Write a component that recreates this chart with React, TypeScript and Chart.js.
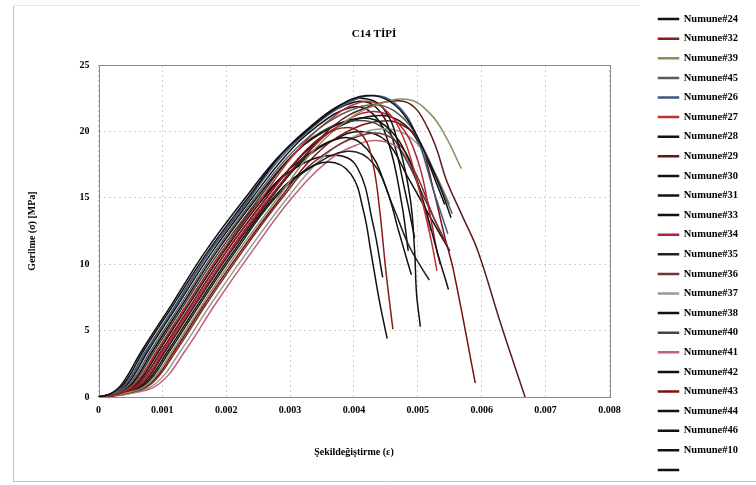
import React, { useEffect, useRef } from "react";
import { Chart, registerables } from "chart.js";

Chart.register(...registerables);

type Pt = [number, number];

const chartTitle = "C14 TİPİ";
const xAxisTitle = "Şekildeğiştirme (ε)";
const yAxisTitle = "Gerilme (σ) [MPa]";
const xMin = 0;
const xMax = 0.008;
const xStep = 0.001;
const yMin = 0;
const yMax = 25;
const yStep = 5;

// strain (ε), stress (MPa)
const numune24: Pt[] = [[0,0],[0.00019,0.25],[0.00037,1],[0.00068,3.5],[0.00115,7],[0.00168,11],[0.0023,15],[0.0028,18],[0.0033,20.2],[0.0038,22],[0.0042,22.7],[0.00455,22.3],[0.00485,20.8],[0.0051,18.5],[0.00535,15.8],[0.00552,13.5]];
const numune32: Pt[] = [[0,0],[0.00032,0.25],[0.00063,1],[0.00099,3.5],[0.00146,7],[0.00201,11],[0.00263,15],[0.0031,17.8],[0.0035,19.6],[0.0039,20.3],[0.00415,19.6],[0.0043,17.5],[0.0044,14.2],[0.0045,9.5],[0.00461,5.1]];
const numune39: Pt[] = [[0,0],[0.00039,0.25],[0.00078,1],[0.00116,3.5],[0.00163,7],[0.00219,11],[0.00281,15],[0.0033,18.2],[0.0038,20.5],[0.0043,21.9],[0.00485,22.4],[0.0052,21.3],[0.00545,19.5],[0.00568,17.2]];
const numune45: Pt[] = [[0,0],[0.00024,0.25],[0.00049,1],[0.00082,3.5],[0.00129,7],[0.00183,11],[0.00245,15],[0.00295,18],[0.00345,20.2],[0.0039,21.5],[0.00435,22],[0.0047,21.3],[0.005,19.5],[0.0053,16.5],[0.00554,13.8]];
const numune26: Pt[] = [[0,0],[0.00021,0.25],[0.00043,1],[0.00075,3.5],[0.00122,7],[0.00175,11],[0.00237,15],[0.00285,18],[0.00335,20.3],[0.00385,22],[0.0043,22.7],[0.00465,22.1],[0.00495,20],[0.00525,15.5],[0.00547,12.3]];
const numune27: Pt[] = [[0,0],[0.00029,0.25],[0.00057,1],[0.00092,3.5],[0.00139,7],[0.00194,11],[0.00256,15],[0.00305,18.2],[0.00355,20.6],[0.0041,22.2],[0.00445,21.8],[0.00475,19.8],[0.005,16],[0.0052,12],[0.0053,9.5]];
const numune28: Pt[] = [[0,0],[0.0002,0.25],[0.0004,1],[0.00071,3.5],[0.00118,7],[0.00172,11],[0.00234,15],[0.00285,18.2],[0.00335,20.5],[0.00375,21.9],[0.0041,22.5],[0.00445,21.8],[0.0047,19],[0.00488,15],[0.00495,11],[0.00498,7.8],[0.00504,5.3]];
const numune29: Pt[] = [[0,0],[0.00034,0.25],[0.00069,1],[0.00105,3.5],[0.00152,7],[0.00208,11],[0.0027,15],[0.0032,18],[0.0037,20.5],[0.0042,21.8],[0.0047,22.3],[0.00495,21.8],[0.00515,20.3],[0.0053,18.6],[0.00545,16.3],[0.0057,13.6],[0.00594,11],[0.0063,5.5],[0.00668,0]];
const numune30: Pt[] = [[0,0],[0.00036,0.25],[0.00072,1],[0.00109,3.5],[0.00156,7],[0.00212,11],[0.00274,15],[0.00315,16.8],[0.0036,17.7],[0.00395,16.8],[0.00415,14],[0.00427,10.8],[0.0044,7.2],[0.00452,4.4]];
const numune31: Pt[] = [[0,0],[0.00026,0.25],[0.00052,1],[0.00085,3.5],[0.00132,7],[0.00186,11],[0.00248,15],[0.003,18],[0.0035,19.9],[0.0041,21],[0.0045,20.4],[0.00485,18],[0.0051,14.5],[0.0053,11],[0.00548,8.1]];
const numune33: Pt[] = [[0,0],[0.0003,0.25],[0.0006,1],[0.00095,3.5],[0.00142,7],[0.00197,11],[0.00259,15],[0.0031,17.6],[0.0038,19.5],[0.0042,18.7],[0.0045,15.8],[0.0047,12.5],[0.00485,10],[0.0049,9.2]];
const numune34: Pt[] = [[0,0],[0.00033,0.25],[0.00066,1],[0.00102,3.5],[0.00149,7],[0.00205,11],[0.00267,15],[0.0032,18],[0.00375,20.4],[0.0043,21.5],[0.0047,20.6],[0.005,17.8],[0.0052,13.5],[0.0053,11],[0.00535,10]];
const numune35: Pt[] = [[0,0],[0.00037,0.25],[0.00075,1],[0.00112,3.5],[0.00159,7],[0.00215,11],[0.00277,15],[0.0033,17.2],[0.0039,18.5],[0.0043,17.6],[0.0046,14.5],[0.00485,11.5],[0.00505,9.8],[0.00518,8.8]];
const numune36: Pt[] = [[0,0],[0.00042,0.25],[0.00083,1],[0.00122,3.5],[0.00169,7],[0.00226,11],[0.00288,15],[0.0034,17.8],[0.0042,19.8],[0.00465,19.3],[0.005,16.5],[0.00525,13.5],[0.00545,11.5]];
const numune37: Pt[] = [[0,0],[0.00045,0.25],[0.00089,1],[0.00129,3.5],[0.00176,7],[0.00234,11],[0.00296,15],[0.0035,18],[0.004,19.6],[0.0045,20.2],[0.0049,19.5],[0.0052,17.5],[0.0055,14.5]];
const numune38: Pt[] = [[0,0],[0.00023,0.25],[0.00046,1],[0.00078,3.5],[0.00125,7],[0.00179,11],[0.00241,15],[0.0029,18],[0.0034,20.3],[0.00395,21.8],[0.0043,21.3],[0.00455,19],[0.00475,14.5],[0.00485,11]];
const numune40: Pt[] = [[0,0],[0.00027,0.25],[0.00054,1],[0.00088,3.5],[0.00135,7],[0.0019,11],[0.00252,15],[0.003,18],[0.0035,20],[0.004,20.8],[0.00445,20.3],[0.0048,18],[0.0051,15],[0.0054,12]];
const numune41: Pt[] = [[0,0],[0.00048,0.25],[0.00095,1],[0.00136,3.5],[0.00183,7],[0.00241,11],[0.00303,15],[0.0036,17.8],[0.004,18.9],[0.0044,19.3],[0.00475,18.5],[0.005,16],[0.0052,12.5]];
const numune42: Pt[] = [[0,0],[0.00029,0.25],[0.00057,1],[0.00092,3.5],[0.00139,7],[0.00194,11],[0.00256,15],[0.0031,17.3],[0.0037,18.2],[0.00405,17.3],[0.0043,13],[0.00445,9]];
const numune43: Pt[] = [[0,0],[0.0004,0.25],[0.00081,1],[0.00119,3.5],[0.00166,7],[0.00223,11],[0.00285,15],[0.00335,18],[0.0039,20],[0.0045,20.8],[0.00485,20.2],[0.00505,19],[0.00525,15.5],[0.00542,12.1],[0.00556,9.5],[0.0059,1.05]];
const numune44: Pt[] = [[0,0],[0.00021,0.25],[0.00043,1],[0.00075,3.5],[0.00122,7],[0.00175,11],[0.00237,15],[0.00285,18.2],[0.0034,20.6],[0.004,22.2],[0.00435,21.8],[0.0046,19.5],[0.0048,15.5],[0.00495,12]];
const numune46: Pt[] = [[0,0],[0.00034,0.25],[0.00069,1],[0.00105,3.5],[0.00152,7],[0.00208,11],[0.0027,15],[0.0032,17.8],[0.0037,19.4],[0.0041,20],[0.0045,19.3],[0.00485,16.5],[0.0052,13.5],[0.0055,11]];
const numune10: Pt[] = [[0,0],[0.00032,0.25],[0.00063,1],[0.00099,3.5],[0.00146,7],[0.00201,11],[0.00263,15],[0.00315,18],[0.0037,20.2],[0.0044,21.2],[0.0048,20.5],[0.0051,18.3],[0.0053,16],[0.00542,14.5]];
const blankSeries: Pt[] = [];

const seriesNames = [
  "Numune#24", "Numune#32", "Numune#39", "Numune#45", "Numune#26", "Numune#27",
  "Numune#28", "Numune#29", "Numune#30", "Numune#31", "Numune#33", "Numune#34",
  "Numune#35", "Numune#36", "Numune#37", "Numune#38", "Numune#40", "Numune#41",
  "Numune#42", "Numune#43", "Numune#44", "Numune#46", "Numune#10", "",
];
const seriesData: Pt[][] = [
  numune24, numune32, numune39, numune45, numune26, numune27,
  numune28, numune29, numune30, numune31, numune33, numune34,
  numune35, numune36, numune37, numune38, numune40, numune41,
  numune42, numune43, numune44, numune46, numune10, blankSeries,
];
const seriesColors = [
  "#111111", "#8b1a1a", "#8c8c5c", "#5a5a5a", "#3d5a80", "#c03030",
  "#111111", "#5c1a1a", "#111111", "#111111", "#111111", "#b3203a",
  "#222222", "#7b3030", "#9a9a9a", "#111111", "#444444", "#c06070",
  "#111111", "#7a1010", "#111111", "#111111", "#111111", "#111111",
];

const FONT = "'Liberation Serif', 'Times New Roman', serif";

const framePlugin = {
  id: "frame",
  beforeDraw(chart: any) {
    const { ctx, width, height } = chart;
    ctx.save();
    ctx.fillStyle = "#ffffff";
    ctx.fillRect(0, 0, width, height);
    ctx.strokeStyle = "#c4c4c4";
    ctx.lineWidth = 1;
    ctx.beginPath();
    ctx.moveTo(13.5, 5);
    ctx.lineTo(13.5, 481);
    ctx.moveTo(13, 481.5);
    ctx.lineTo(width, 481.5);
    ctx.stroke();
    ctx.strokeStyle = "#e6e6e6";
    ctx.beginPath();
    ctx.moveTo(13, 5.5);
    ctx.lineTo(640, 5.5);
    ctx.stroke();
    ctx.restore();
  },
  beforeDatasetsDraw(chart: any) {
    const { ctx, chartArea } = chart;
    ctx.save();
    ctx.strokeStyle = "#8a8a8a";
    ctx.lineWidth = 1;
    ctx.strokeRect(
      Math.round(chartArea.left) + 0.5,
      Math.round(chartArea.top) + 0.5,
      Math.round(chartArea.right - chartArea.left),
      Math.round(chartArea.bottom - chartArea.top)
    );
    ctx.restore();
  },
};

export default function App() {
  const ref = useRef<HTMLCanvasElement>(null);
  useEffect(() => {
    document.body.style.margin = "0";
    const canvas = ref.current;
    if (!canvas) return;
    Chart.defaults.font.family = FONT;
    Chart.defaults.color = "#000000";
    const chart = new Chart(canvas, {
      type: "line",
      data: {
        datasets: seriesData.map((pts, i) => ({
          label: seriesNames[i],
          data: pts.map(([x, y]) => ({ x, y })),
          borderColor: seriesColors[i],
          backgroundColor: seriesColors[i],
          borderWidth: 1.5,
          pointRadius: 0,
          pointHoverRadius: 0,
          fill: false,
          tension: 0.4,
        })),
      },
      options: {
        responsive: false,
        animation: false,
        events: [],
        layout: { padding: { top: 4, right: 8, left: 0, bottom: 0 } },
        plugins: {
          tooltip: { enabled: false },
          title: {
            display: true,
            text: chartTitle,
            color: "#000",
            font: { size: 11, weight: "bold", family: FONT },
            padding: { top: 24, bottom: 23.8 },
          },
          legend: {
            position: "right",
            align: "center",
            labels: {
              boxWidth: 20,
              boxHeight: 1,
              padding: 9.1,
              color: "#000",
              font: { size: 10.5, weight: "bold", family: FONT },
            },
          },
        },
        scales: {
          x: {
            type: "linear",
            min: xMin,
            max: xMax,
            ticks: {
              stepSize: xStep,
              padding: 7,
              color: "#000",
              font: { size: 10, weight: "bold", family: FONT },
              callback: (v: any) => (Number(v) === 0 ? "0" : Number(v).toFixed(3)),
            },
            grid: { color: "#cfcfcf", drawTicks: false },
            border: { display: false, dash: [2, 3] },
            title: {
              display: true,
              text: xAxisTitle,
              color: "#000",
              font: { size: 10, weight: "bold", family: FONT },
              padding: { top: 0, bottom: 27 },
            },
            afterFit: (s: any) => {
              s.height = 88;
            },
          },
          y: {
            type: "linear",
            position: "left",
            min: yMin,
            max: yMax,
            ticks: {
              stepSize: yStep,
              padding: 9,
              color: "#000",
              font: { size: 10, weight: "bold", family: FONT },
            },
            grid: { color: "#cfcfcf", drawTicks: false },
            border: { display: false, dash: [2, 3] },
            title: {
              display: true,
              text: yAxisTitle,
              color: "#000",
              font: { size: 10, weight: "bold", family: FONT },
              padding: { top: 26, bottom: 0 },
            },
            afterFit: (s: any) => {
              s.width = 98.5;
            },
          },
          y2: {
            type: "linear",
            position: "right",
            display: true,
            grid: { display: false, drawTicks: false },
            border: { display: false },
            ticks: { display: false },
            afterFit: (s: any) => {
              s.width = 40;
            },
          },
        },
      },
      plugins: [framePlugin],
    } as any);
    return () => chart.destroy();
  }, []);
  return (
    <div style={{ width: 756, height: 485 }}>
      <canvas ref={ref} width={756} height={485} style={{ display: "block" }} />
    </div>
  );
}
